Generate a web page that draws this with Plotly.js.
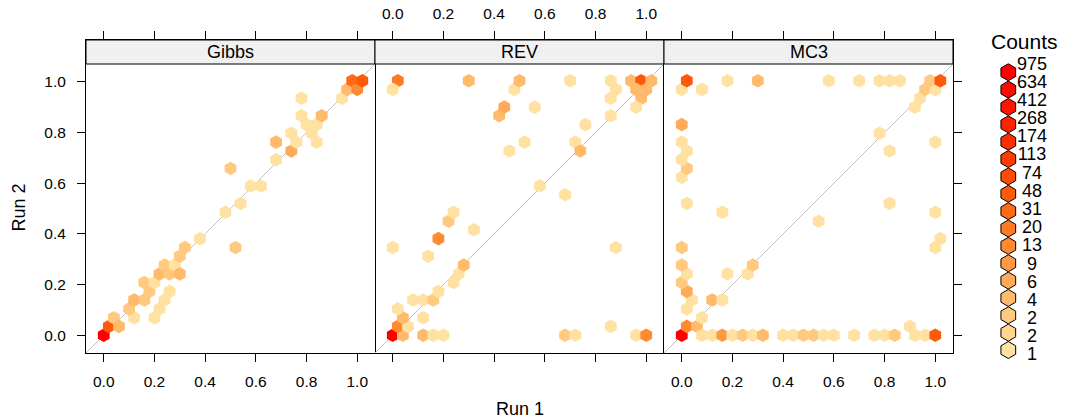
<!DOCTYPE html>
<html><head><meta charset="utf-8">
<script src="https://cdn.plot.ly/plotly-3.0.1.min.js"></script>
<style>html,body{margin:0;padding:0;background:#fff}#chart{width:1067px;height:418px}</style>
</head><body><div id="chart"></div>
<script>
// ---- data: hexagon cell centres (Run 1, Run 2) and counts per panel ----
const panelNames = ['Gibbs', 'REV', 'MC3'];

const gibbsX = [0.00,0.02,0.04,0.06,0.12,0.10,0.12,0.16,0.16,0.18,0.20,0.22,0.24,0.26,0.28,0.30,0.30,0.32,0.38,0.20,0.22,0.24,0.26,0.48,0.54,0.58,0.62,0.50,0.52,0.68,0.68,0.74,0.76,0.74,0.78,0.78,0.80,0.82,0.84,0.84,0.86,0.94,0.96,0.98,1.00,1.02];
const gibbsY = [0.000,0.035,0.069,0.035,0.069,0.104,0.139,0.139,0.208,0.173,0.208,0.242,0.277,0.242,0.277,0.242,0.312,0.346,0.381,0.069,0.104,0.139,0.173,0.485,0.520,0.589,0.589,0.658,0.346,0.693,0.762,0.727,0.762,0.797,0.866,0.935,0.831,0.797,0.831,0.762,0.866,0.935,0.970,1.004,0.970,1.004];
const gibbsN = [975,40,2,3,1,2,4,2,2,2,1,3,2,2,1,4,2,2,1,1,1,1,1,1,1,1,1,2,2,1,3,6,1,1,1,1,1,1,1,1,3,1,3,31,13,48];

const revX = [0.00,0.04,0.02,0.06,0.04,0.02,0.12,0.12,0.16,0.20,0.08,0.12,0.16,0.18,0.24,0.26,0.28,0.14,0.00,0.18,0.32,0.22,0.24,0.58,0.68,0.88,0.86,0.68,0.72,0.96,1.00,0.46,0.52,0.72,0.74,0.76,0.86,0.42,0.44,0.56,0.48,0.50,0.30,0.02,0.00,0.70,0.86,0.88,0.86,0.94,0.98,1.02,0.96,1.00,0.98,0.96];
const revY = [0.000,0.000,0.035,0.035,0.069,0.104,0.069,0.000,0.000,0.000,0.139,0.139,0.139,0.173,0.208,0.242,0.277,0.312,0.346,0.381,0.416,0.450,0.485,0.589,0.554,0.346,0.035,0.000,0.000,0.000,0.000,0.727,0.762,0.762,0.727,0.831,0.866,0.866,0.900,0.900,0.970,1.004,1.004,1.004,0.970,1.004,1.004,0.970,0.935,1.004,1.004,1.004,0.970,0.970,0.935,0.900];
const revN = [975,4,13,1,3,1,1,3,1,1,1,1,2,1,1,1,3,1,1,13,1,2,1,1,1,1,1,2,1,1,13,1,1,1,3,1,1,3,6,1,1,3,3,20,1,1,1,1,1,3,48,3,3,3,3,1];

const mc3X = [0.00,0.02,0.06,0.08,0.08,0.12,0.16,0.20,0.24,0.28,0.32,0.40,0.44,0.48,0.52,0.56,0.60,0.68,0.76,0.80,0.84,0.92,0.96,1.00,0.90,0.02,0.04,0.02,0.00,0.02,0.00,0.00,0.12,0.16,0.18,0.26,0.28,0.02,0.16,0.54,0.82,1.00,1.02,1.00,0.00,0.02,0.00,0.02,0.00,0.00,0.78,0.82,1.00,0.92,0.94,0.96,1.00,0.98,1.02,0.00,0.08,0.02,0.18,0.30,0.58,0.70,0.78,0.82,0.86];
const mc3Y = [0.000,0.035,0.035,0.069,0.000,0.000,0.000,0.000,0.000,0.000,0.000,0.000,0.000,0.000,0.000,0.000,0.000,0.000,0.000,0.000,0.000,0.000,0.000,0.000,0.035,0.104,0.139,0.173,0.208,0.242,0.277,0.346,0.139,0.139,0.242,0.242,0.277,0.520,0.485,0.450,0.520,0.485,0.381,0.346,0.623,0.658,0.693,0.727,0.762,0.831,0.797,0.727,0.762,0.900,0.935,0.970,0.970,1.004,1.004,0.970,0.970,1.004,1.004,1.004,1.004,1.004,1.004,1.004,1.004];
const mc3N = [975,13,3,1,1,1,8,1,2,1,4,1,1,2,2,1,1,1,1,1,2,1,1,48,1,1,1,6,2,1,2,2,4,1,1,1,2,1,1,1,1,1,1,1,1,2,1,1,1,6,1,1,1,1,1,2,1,2,40,1,1,48,1,3,1,1,1,1,1];

const tickVals = [0, 0.2, 0.4, 0.6, 0.8, 1.0];
const tickText = ['0.0', '0.2', '0.4', '0.6', '0.8', '1.0'];
const legendCounts = [975, 634, 412, 268, 174, 113, 74, 48, 31, 20, 13, 9, 6, 4, 2, 2, 1];

// ---- styling ----
const palette = ['#FFE1A2','#FFD590','#FFC97F','#FFBA6C','#FFAA58','#FF9A44','#FF8A32','#FF7A22',
                 '#FF6A14','#FF5A0A','#FF4B04','#FF3C00','#FF2E00','#FF2200','#FF1600','#FF0A00','#FF0000'];
const maxCount = legendCounts[0];
function colorFor(c) {
  const i = Math.round(Math.log(c) / Math.log(maxCount) * (palette.length - 1));
  return palette[Math.max(0, Math.min(palette.length - 1, i))];
}
const FONT = '"Liberation Sans", Arial, Helvetica, sans-serif';
const W = 1067, H = 418;
const px = v => v / W, py = v => 1 - v / H;

const xDom = [[px(86), px(375)], [px(375), px(664)], [px(664), px(953)]];
const yDom = [py(353), py(40)];
const xr = [-0.07, 1.07];
const yr = [-0.07, -0.07 + 313 / 253.5];
const stripBottom = 1.07;

const panels = [[gibbsX, gibbsY, gibbsN], [revX, revY, revN], [mc3X, mc3Y, mc3N]];
const traces = panels.map((p, i) => ({
  type: 'scatter', mode: 'markers',
  x: p[0], y: p[1],
  xaxis: i === 0 ? 'x' : 'x' + (i + 1), yaxis: i === 0 ? 'y' : 'y' + (i + 1),
  marker: {symbol: 'hexagon', size: 13.6, color: p[2].map(colorFor), line: {width: 0}},
  hoverinfo: 'skip', showlegend: false
}));

// legend key: hexagons and labels
const nL = legendCounts.length;
traces.push({
  type: 'scatter', mode: 'markers', xaxis: 'x4', yaxis: 'y4',
  x: legendCounts.map(() => 1008.3), y: legendCounts.map((c, k) => nL - 1 - k),
  marker: {symbol: 'hexagon', size: 17, color: legendCounts.map((c, k) => palette[nL - 1 - k]),
           line: {color: '#000', width: 1}},
  cliponaxis: false, hoverinfo: 'skip', showlegend: false
});
traces.push({
  type: 'scatter', mode: 'text', xaxis: 'x4', yaxis: 'y5',
  x: legendCounts.map(() => 1032), y: legendCounts.map((c, k) => nL - 1 - k),
  text: legendCounts.map(String), textposition: 'middle center',
  textfont: {family: FONT, size: 18, color: '#000'},
  cliponaxis: false, hoverinfo: 'skip', showlegend: false
});

function xAxis(i) {
  return {
    domain: xDom[i], range: xr, anchor: i === 0 ? 'y' : 'y' + (i + 1),
    side: i === 1 ? 'top' : 'bottom',
    tickmode: 'array', tickvals: tickVals, ticktext: tickText,
    ticks: 'outside', ticklen: 8, tickwidth: 1, tickcolor: '#000',
    ticklabelstandoff: 6,
    showline: true, linecolor: '#000', linewidth: 1, mirror: 'ticks',
    showgrid: false, zeroline: false, fixedrange: true,
    tickfont: {family: FONT, size: 15.5, color: '#000'}
  };
}
function yAxis(i) {
  const a = {
    domain: yDom, range: yr, anchor: i === 0 ? 'x' : 'x' + (i + 1),
    tickmode: 'array', tickvals: tickVals, ticktext: tickText,
    showline: true, linecolor: '#000', linewidth: 1, mirror: true,
    showgrid: false, zeroline: false, fixedrange: true,
    tickfont: {family: FONT, size: 15.5, color: '#000'},
    ticklen: 8, tickwidth: 1, tickcolor: '#000', ticklabelstandoff: 8
  };
  if (i === 0) { a.side = 'left'; a.ticks = 'outside'; }
  else if (i === 1) { a.ticks = ''; a.showticklabels = false; a.showline = false; }
  else { a.side = 'right'; a.ticks = 'outside'; a.showticklabels = false; }
  return a;
}

const shapes = [];
const annotations = [];
panelNames.forEach((name, i) => {
  const xa = i === 0 ? 'x' : 'x' + (i + 1), ya = i === 0 ? 'y' : 'y' + (i + 1);
  shapes.push({type: 'line', xref: xa, yref: ya, x0: xr[0], y0: xr[0], x1: stripBottom, y1: stripBottom,
               line: {color: '#c4c4c4', width: 1}, layer: 'below'});
  shapes.push({type: 'rect', xref: xa + ' domain', yref: ya, x0: 0, x1: 1, y0: stripBottom, y1: yr[1],
               fillcolor: '#f0f0f0', line: {color: '#000', width: 1}, layer: 'above'});
  annotations.push({text: name, xref: 'paper', yref: 'paper',
    x: (xDom[i][0] + xDom[i][1]) / 2, y: py(52), xanchor: 'center', yanchor: 'middle',
    showarrow: false, font: {family: FONT, size: 18, color: '#000'}});
});
annotations.push({text: 'Run 2', xref: 'paper', yref: 'paper', x: px(18.5), y: py(208), textangle: -90,
  xanchor: 'center', yanchor: 'middle', showarrow: false, font: {family: FONT, size: 18, color: '#000'}});
annotations.push({text: 'Run 1', xref: 'paper', yref: 'paper', x: px(519.5), y: py(409),
  xanchor: 'center', yanchor: 'middle', showarrow: false, font: {family: FONT, size: 18, color: '#000'}});
annotations.push({text: 'Counts', xref: 'paper', yref: 'paper', x: px(1024.5), y: py(42),
  xanchor: 'center', yanchor: 'middle', showarrow: false, font: {family: FONT, size: 21, color: '#000'}});

const layout = {
  width: W, height: H, margin: {l: 0, r: 0, t: 0, b: 0},
  paper_bgcolor: '#fff', plot_bgcolor: 'rgba(0,0,0,0)', showlegend: false,
  font: {family: FONT, color: '#000'},
  xaxis: xAxis(0), xaxis2: xAxis(1), xaxis3: xAxis(2),
  yaxis: yAxis(0), yaxis2: yAxis(1), yaxis3: yAxis(2),
  xaxis4: {domain: [px(980), 1], range: [980, 1067], visible: false, fixedrange: true, anchor: 'y4'},
  yaxis4: {domain: [py(358.7), py(63.6)], range: [-0.5, 16.5], visible: false, fixedrange: true, anchor: 'x4'},
  yaxis5: {domain: [py(365), py(56)], range: [-0.5, 16.5], visible: false, fixedrange: true, anchor: 'x4'},
  shapes: shapes, annotations: annotations
};
Plotly.newPlot('chart', traces, layout, {displayModeBar: false, staticPlot: true});
</script></body></html>
